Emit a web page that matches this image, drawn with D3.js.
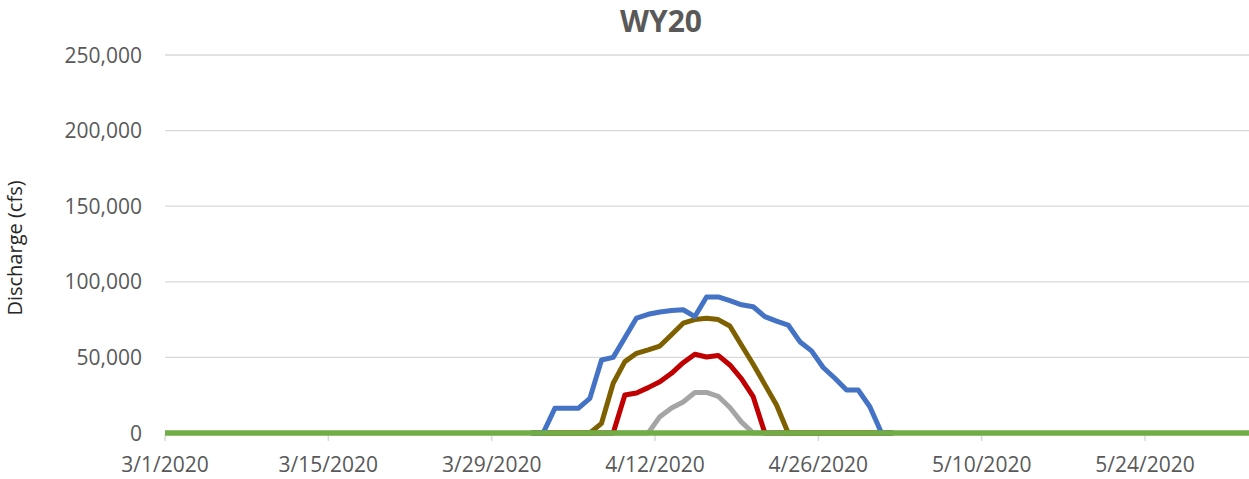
<!DOCTYPE html>
<html>
<head>
<meta charset="utf-8">
<script src="https://cdn.jsdelivr.net/npm/d3@7"></script>
<style>
body{margin:0;background:#fff;}
svg{display:block;font-family:"Open Sans",sans-serif;}
</style>
</head>
<body>
<svg width="1249" height="479"></svg>
<script>

// daily discharge (cfs) from 4/1/2020 to 5/2/2020, read at 10:00
const windowStart = new Date(2020, 3, 1, 10);
const blueFlow  = [0,0,16300,16300,16300,22900,48300,50000,63000,76000,78500,80000,81000,81500,77000,90000,90000,87500,84800,83500,77000,74000,71400,60400,54300,43300,36200,28400,28400,17400,0,0];
const brownFlow = [0,0,0,0,0,0,6400,32900,47200,52700,55000,57500,65000,72600,75000,75900,75000,70800,58000,45500,32000,18500,0,0,0,0,0,0,0,0,0,0];
const redFlow   = [0,0,0,0,0,0,0,0,25100,26500,30000,33900,39500,46500,52100,50300,51300,45000,35800,24000,0,0,0,0,0,0,0,0,0,0,0,0];
const grayFlow  = [0,0,0,0,0,0,0,0,0,0,0,10800,16500,20500,26800,26800,24300,16900,7200,0,0,0,0,0,0,0,0,0,0,0,0,0];
// green series sits on zero for the whole season
const greenStart = new Date(2020, 2, 1);
const greenEnd = new Date(2020, 5, 2);
const greenFlow = 0;

const yTicks = [0, 50000, 100000, 150000, 200000, 250000];
const xTickLabels = ["3/1/2020","3/15/2020","3/29/2020","4/12/2020","4/26/2020","5/10/2020","5/24/2020"];

const plotLeft = 165, plotRight = 1250, plotTop = 55, plotBottom = 433;

function toPoints(values, start){
    return values.map((v, i) => ({date: d3.timeDay.offset(start, i), v: v}));
}

function drawChart(){
    const svg = d3.select('svg');
    const parse = d3.timeParse("%m/%d/%Y");

    const x = d3.scaleTime()
    .domain([new Date(2020, 2, 1), new Date(2020, 5, 2)])
    .range([plotLeft, plotRight]);

    const y = d3.scaleLinear()
    .domain([0, 250000])
    .range([plotBottom, plotTop]);

    // gridlines
    svg.append('g')
    .selectAll('line')
    .data(yTicks)
    .enter()
    .append('line')
    .attr('x1', plotLeft)
    .attr('x2', 1249)
    .attr('y1', d => y(d))
    .attr('y2', d => y(d))
    .style('stroke', '#D9D9D9')
    .style('stroke-width', 1.3);

    // y tick labels
    svg.append('g')
    .selectAll('text')
    .data(yTicks)
    .enter()
    .append('text')
    .attr('x', 142)
    .attr('y', d => y(d))
    .attr('dy', '0.36em')
    .attr('text-anchor', 'end')
    .style('font-size', '21px')
    .style('fill', '#595959')
    .text(d => d3.format(",")(d));

    // x ticks + labels
    const xt = svg.append('g')
    .selectAll('g')
    .data(xTickLabels)
    .enter()
    .append('g')
    .attr('transform', d => `translate(${x(parse(d))},0)`);

    xt.append('line')
    .attr('y1', plotBottom + 2)
    .attr('y2', plotBottom + 8)
    .style('stroke', '#D9D9D9')
    .style('stroke-width', 1.5);

    xt.append('text')
    .attr('y', 472)
    .attr('text-anchor', 'middle')
    .style('font-size', '21px')
    .style('fill', '#595959')
    .text(d => d);

    const line = d3.line()
    .x(d => x(d.date))
    .y(d => y(d.v));

    const series = [
        {values: grayFlow,  color: '#A5A5A5'},
        {values: redFlow,   color: '#C00000'},
        {values: brownFlow, color: '#7F6000'},
        {values: blueFlow,  color: '#4472C4'}
    ];

    svg.append('g')
    .selectAll('path')
    .data(series)
    .enter()
    .append('path')
    .attr('d', s => line(toPoints(s.values, windowStart)))
    .style('fill', 'none')
    .style('stroke', s => s.color)
    .style('stroke-width', 5)
    .style('stroke-linejoin', 'round');

    const greenPts = d3.timeDay.range(greenStart, d3.timeDay.offset(greenEnd, 1)).map(d => ({date: d, v: greenFlow}));
    svg.append('path')
    .attr('d', line(greenPts))
    .style('fill', 'none')
    .style('stroke', '#70AD47')
    .style('stroke-width', 5.5);

    // title
    svg.append('text')
    .attr('x', 661)
    .attr('y', 32)
    .attr('text-anchor', 'middle')
    .style('font-size', '30px')
    .style('font-weight', 'bold')
    .style('fill', '#595959')
    .text('WY20');

    // y axis title
    svg.append('text')
    .attr('transform', 'translate(22,248) rotate(-90)')
    .attr('text-anchor', 'middle')
    .style('font-size', '20px')
    .style('fill', '#262626')
    .text('Discharge (cfs)');
}

drawChart();
</script>
</body>
</html>
